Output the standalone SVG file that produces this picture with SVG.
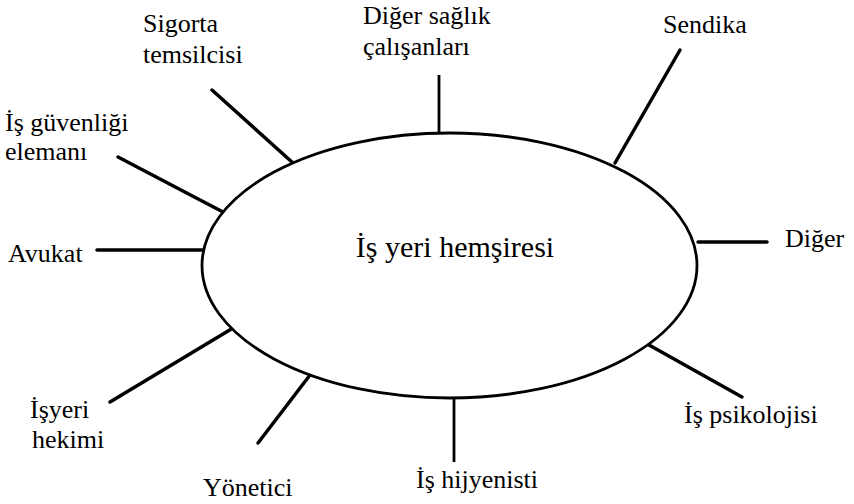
<svg xmlns="http://www.w3.org/2000/svg" width="854" height="504" viewBox="0 0 854 504">
<style>
text{font-family:"Times New Roman","Liberation Serif",serif;fill:#000}
.lbl{font-size:26px}
.ctr{font-size:30px}
.ln{stroke:#000;stroke-width:3.5;stroke-linecap:round;fill:none}
.vl{stroke:#000;stroke-width:2.8;fill:none}
.ell{stroke:#000;stroke-width:2.8;fill:#fff}
</style>
<rect width="854" height="504" fill="#fff"/>
<g id="connectors">
<line class="ln" x1="212" y1="90" x2="293" y2="163"/>
<line class="vl" x1="439" y1="75" x2="439" y2="133"/>
<line class="ln" x1="680" y1="50" x2="615" y2="163"/>
<line class="ln" x1="118" y1="157" x2="223" y2="212"/>
<line class="ln" x1="97" y1="250" x2="202" y2="250"/>
<line class="ln" x1="698" y1="242" x2="767" y2="242"/>
<line class="ln" x1="649" y1="345" x2="742" y2="397"/>
<line class="vl" x1="454" y1="398" x2="454" y2="462"/>
<line class="ln" x1="258" y1="443" x2="310" y2="375"/>
<line class="ln" x1="110" y1="402" x2="233" y2="328"/>
</g>
<g id="center">
<ellipse class="ell" cx="449.5" cy="265.5" rx="247.5" ry="132.5"/>
<text class="ctr" x="455" y="257" text-anchor="middle">İş yeri hemşiresi</text>
</g>
<g id="sigorta"><text class="lbl" x="143" y="32">Sigorta</text><text class="lbl" x="143" y="63">temsilcisi</text></g>
<g id="diger-saglik"><text class="lbl" x="363" y="24">Diğer sağlık</text><text class="lbl" x="363" y="55">çalışanları</text></g>
<g id="sendika"><text class="lbl" x="663" y="33">Sendika</text></g>
<g id="is-guvenligi"><text class="lbl" x="5" y="131">İş güvenliği</text><text class="lbl" x="5" y="160">elemanı</text></g>
<g id="avukat"><text class="lbl" x="8" y="262">Avukat</text></g>
<g id="diger"><text class="lbl" x="785" y="247">Diğer</text></g>
<g id="isyeri-hekimi"><text class="lbl" x="30" y="418">İşyeri</text><text class="lbl" x="32" y="448">hekimi</text></g>
<g id="yonetici"><text class="lbl" x="203" y="496">Yönetici</text></g>
<g id="is-hijyenisti"><text class="lbl" x="416" y="488">İş hijyenisti</text></g>
<g id="is-psikolojisi"><text class="lbl" x="684" y="423">İş psikolojisi</text></g>
</svg>
